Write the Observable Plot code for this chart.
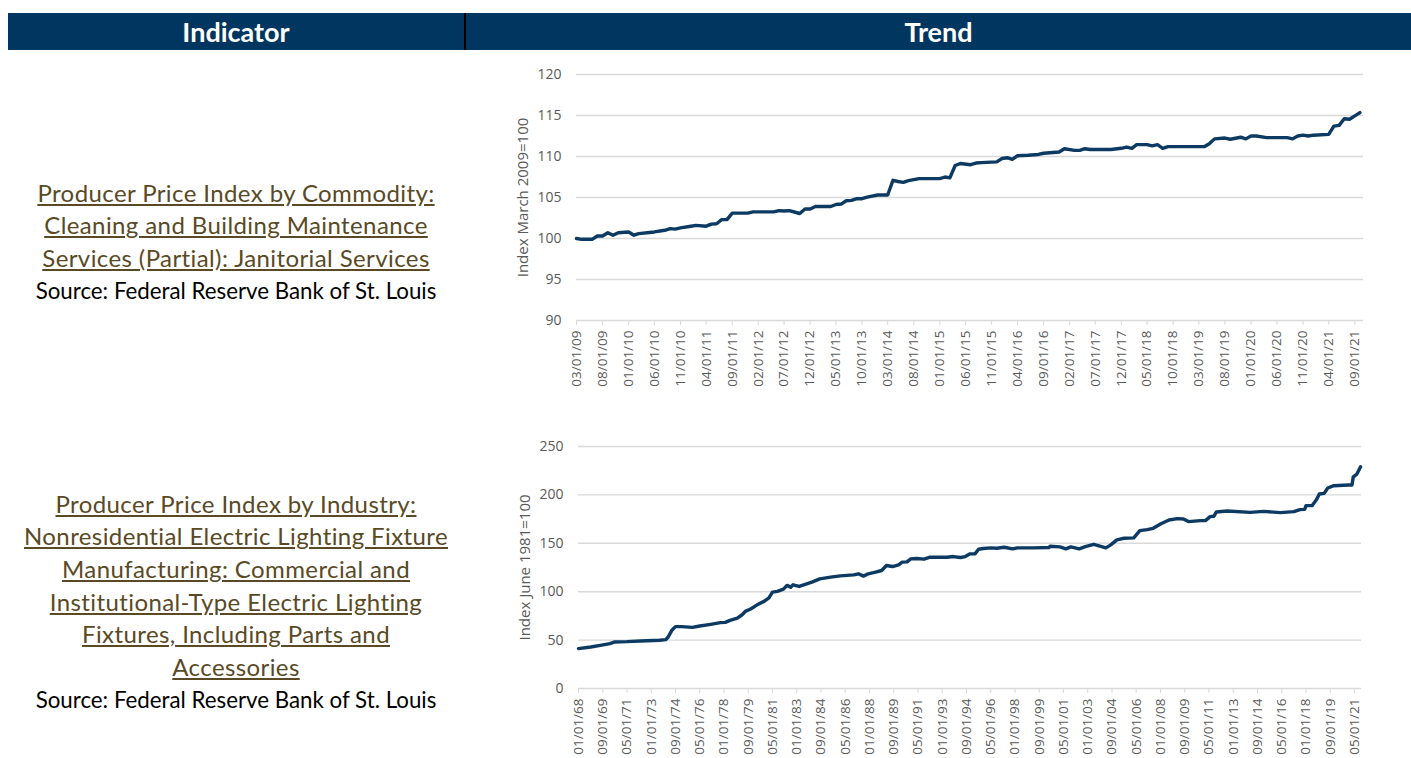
<!DOCTYPE html>
<html><head><meta charset="utf-8">
<script src="https://cdn.jsdelivr.net/npm/d3@7"></script>
<script src="https://cdn.jsdelivr.net/npm/@observablehq/plot@0.6"></script>
<style>
body{margin:0;background:#fff;width:1411px;height:758px;position:relative;overflow:hidden;font-family:Lato,sans-serif}
#hdr{position:absolute;left:8px;top:13px;width:1403px;height:37px;background:#003660}
.h{position:absolute;top:0;height:37px;line-height:37px;color:#fff;font-weight:bold;font-size:27px;text-align:center}
#h1{left:0;width:456px}
#h2{left:458px;width:945px}
#dv{position:absolute;left:456px;top:0;width:2px;height:37px;background:#000}
.ind{position:absolute;left:8px;width:456px;text-align:center;color:#000}
.ind .ln{height:32.7px;line-height:32.7px;font-size:24px;letter-spacing:0.4px;white-space:nowrap}
.ind .ln a{color:#594a25;text-decoration:underline}
.ind .src{height:31px;line-height:31px;margin-top:0.5px;font-size:22.3px;white-space:nowrap}
.chart{position:absolute;left:500px}
</style></head>
<body>
<div id="hdr"><div class="h" id="h1">Indicator</div><div id="dv"></div><div class="h" id="h2">Trend</div></div>
<div class="ind" id="ind1" style="top:176.5px"></div>
<div class="ind" id="ind2" style="top:487.5px"></div>
<div class="chart" id="c1" style="top:60px"></div>
<div class="chart" id="c2" style="top:430px"></div>
<script>
// ---------- Text ----------
const headerLabels = ["Indicator", "Trend"];
const indicator1Lines = ["Producer Price Index by Commodity:", "Cleaning and Building Maintenance", "Services (Partial): Janitorial Services"];
const indicator2Lines = ["Producer Price Index by Industry:", "Nonresidential Electric Lighting Fixture", "Manufacturing: Commercial and", "Institutional-Type Electric Lighting", "Fixtures, Including Parts and", "Accessories"];
const sourceText = "Source: Federal Reserve Bank of St. Louis";
const yLabel1 = "Index March 2009=100";
const yLabel2 = "Index June 1981=100";

// ---------- Chart 1: PPI Janitorial Services ----------
const janMonths = ["2009-03","2009-04","2009-06","2009-07","2009-08","2009-09","2009-10","2009-11","2010-01","2010-02","2010-03","2010-06","2010-08","2010-09","2010-10","2010-11","2011-01","2011-02","2011-04","2011-05","2011-06","2011-07","2011-08","2011-09","2011-12","2012-01","2012-05","2012-06","2012-07","2012-08","2012-10","2012-11","2012-12","2013-01","2013-04","2013-05","2013-06","2013-07","2013-08","2013-09","2013-10","2013-11","2014-01","2014-03","2014-04","2014-05","2014-06","2014-07","2014-09","2015-01","2015-02","2015-03","2015-04","2015-05","2015-07","2015-08","2015-09","2015-12","2016-01","2016-02","2016-03","2016-04","2016-06","2016-08","2016-09","2016-12","2017-01","2017-03","2017-04","2017-05","2017-06","2017-10","2017-12","2018-01","2018-02","2018-03","2018-05","2018-06","2018-07","2018-08","2018-09","2019-04","2019-05","2019-06","2019-08","2019-09","2019-11","2019-12","2020-01","2020-02","2020-04","2020-08","2020-09","2020-10","2020-11","2020-12","2021-01","2021-04","2021-05","2021-06","2021-07","2021-08","2021-09","2021-10"];
const janValues = [100.0,99.9,99.9,100.3,100.3,100.7,100.4,100.7,100.8,100.4,100.6,100.8,101.0,101.2,101.15,101.3,101.5,101.6,101.5,101.75,101.8,102.3,102.3,103.1,103.1,103.25,103.25,103.4,103.35,103.4,103.05,103.6,103.6,103.9,103.9,104.15,104.2,104.6,104.65,104.85,104.85,105.05,105.3,105.3,107.1,106.95,106.85,107.05,107.3,107.3,107.5,107.4,108.9,109.15,109.0,109.2,109.25,109.35,109.75,109.85,109.65,110.1,110.15,110.25,110.4,110.55,110.95,110.75,110.75,110.95,110.85,110.85,111.0,111.15,111.0,111.45,111.45,111.3,111.45,111.0,111.2,111.2,111.55,112.15,112.25,112.1,112.35,112.15,112.5,112.5,112.3,112.3,112.15,112.5,112.6,112.5,112.6,112.7,113.7,113.8,114.6,114.55,114.95,115.35];
const janYTicks = [90, 95, 100, 105, 110, 115, 120];
const janXTickLabels = ["03/01/09","08/01/09","01/01/10","06/01/10","11/01/10","04/01/11","09/01/11","02/01/12","07/01/12","12/01/12","05/01/13","10/01/13","03/01/14","08/01/14","01/01/15","06/01/15","11/01/15","04/01/16","09/01/16","02/01/17","07/01/17","12/01/17","05/01/18","10/01/18","03/01/19","08/01/19","01/01/20","06/01/20","11/01/20","04/01/21","09/01/21"];

// ---------- Chart 2: PPI Lighting Fixtures ----------
const lightMonths = ["1968-01","1968-11","1969-07","1970-03","1970-07","1971-05","1972-04","1973-08","1974-01","1974-03","1974-06","1974-09","1975-02","1975-11","1976-05","1977-02","1977-10","1978-02","1978-06","1978-12","1979-04","1979-07","1979-11","1980-04","1980-10","1981-02","1981-05","1981-09","1982-02","1982-05","1982-08","1982-10","1983-03","1983-08","1984-02","1984-08","1985-05","1986-01","1986-12","1987-04","1987-08","1987-12","1988-06","1988-11","1989-03","1989-08","1990-01","1990-04","1990-08","1990-11","1991-04","1991-10","1992-03","1993-05","1993-10","1994-04","1994-08","1994-12","1995-04","1995-07","1995-11","1996-05","1996-10","1997-04","1997-11","1998-03","1999-04","2000-05","2000-06","2001-02","2001-07","2001-11","2002-06","2002-11","2003-06","2004-04","2004-08","2005-01","2005-07","2006-03","2006-08","2007-02","2007-07","2008-01","2008-08","2009-03","2009-08","2009-12","2010-10","2011-02","2011-06","2011-09","2011-11","2012-08","2014-03","2015-02","2016-04","2017-03","2017-08","2017-12","2018-01","2018-06","2018-10","2018-12","2019-04","2019-07","2019-12","2020-12","2021-03","2021-04","2021-07","2021-09","2021-10"];
const lightValues = [41.2,42.9,44.6,46.4,48.1,48.4,49.1,49.8,50.5,53.2,60.1,63.9,63.9,63.2,64.6,66.3,68.0,68.3,70.4,72.8,76.2,80.0,82.1,86.2,90.0,93.7,99.6,100.3,102.7,106.5,104.7,107.1,105.4,107.5,110.2,113.3,115.0,116.4,117.4,118.5,116.1,118.5,120.2,121.9,127.1,126.0,127.7,130.5,130.8,133.9,134.3,133.6,135.6,135.6,136.3,135.3,136.3,139.1,139.1,143.9,144.6,145.3,144.9,145.9,144.2,145.3,145.3,145.6,147.0,146.3,144.2,146.3,144.2,146.6,149.0,145.3,148.4,153.5,155.2,155.6,163.1,164.1,165.5,170.0,174.1,175.5,175.1,172.4,173.4,173.4,177.5,177.9,182.3,183.4,182.0,183.0,181.7,182.7,184.8,185.1,188.9,188.9,195.7,200.9,201.6,207.1,209.5,210.2,210.2,218.7,221.5,226.6,229.0];
const lightYTicks = [0, 50, 100, 150, 200, 250];
const lightXTickLabels = ["01/01/68","09/01/69","05/01/71","01/01/73","09/01/74","05/01/76","01/01/78","09/01/79","05/01/81","01/01/83","09/01/84","05/01/86","01/01/88","09/01/89","05/01/91","01/01/93","09/01/94","05/01/96","01/01/98","09/01/99","05/01/01","01/01/03","09/01/04","05/01/06","01/01/08","09/01/09","05/01/11","01/01/13","09/01/14","05/01/16","01/01/18","09/01/19","05/01/21"];

// ---------- helpers ----------
const parseYM = s => new Date(Date.UTC(+s.slice(0,4), +s.slice(5,7) - 1, 1));
const parseTick = s => { const [m, d, y] = s.split("/").map(Number); return new Date(Date.UTC(y >= 50 ? 1900 + y : 2000 + y, m - 1, d)); };
const fmt = d3.utcFormat("%m/%d/%y");

document.getElementById("h1").textContent = headerLabels[0];
document.getElementById("h2").textContent = headerLabels[1];
function fillIndicator(id, lines) {
  const el = document.getElementById(id);
  el.innerHTML = lines.map(l => `<div class="ln"><a>${l}</a></div>`).join("") + `<div class="src">${sourceText}</div>`;
}
fillIndicator("ind1", indicator1Lines);
fillIndicator("ind2", indicator2Lines);

const lineColor = "#0c3a63";
const gridColor = "#d9d9d9";
const textColor = "#595959";

function chart({months, values, yTicks, xTicks, yLabel, xDomain, height, marginTop, marginBottom, marginLeft, marginRight}) {
  const data = months.map((m, i) => ({date: parseYM(m), value: values[i]}));
  return Plot.plot({
    width: 911, height, marginTop, marginBottom, marginLeft, marginRight,
    style: {fontFamily: "'Open Sans', sans-serif", fontSize: "14px", color: textColor, background: "transparent", overflow: "visible"},
    x: {type: "utc", domain: xDomain},
    y: {domain: [yTicks[0], yTicks[yTicks.length - 1]]},
    marks: [
      Plot.gridY(yTicks, {stroke: gridColor, strokeOpacity: 1, strokeWidth: 1.4}),
      Plot.axisY(yTicks, {tickSize: 0, tickPadding: 15, label: null, fontSize: 14, fill: textColor}),
      Plot.axisX(xTicks.map(parseTick), {tickFormat: fmt, tickRotate: -90, tickSize: 5, tickPadding: 5, stroke: gridColor, strokeOpacity: 1, label: null, fontSize: 13.5, fill: textColor}),
      Plot.text([yLabel], {frameAnchor: "left", textAnchor: "middle", rotate: -90, dx: -53, fill: textColor, fontSize: 15}),
      Plot.lineY(data, {x: "date", y: "value", stroke: lineColor, strokeWidth: 3.4, strokeLinejoin: "round", strokeLinecap: "round"})
    ]
  });
}

document.getElementById("c1").appendChild(chart({
  months: janMonths, values: janValues, yTicks: janYTicks, xTicks: janXTickLabels, yLabel: yLabel1,
  xDomain: [new Date(Date.UTC(2009, 2, 1)), new Date(Date.UTC(2021, 9, 22))],
  height: 340, marginTop: 14, marginBottom: 80, marginLeft: 76, marginRight: 48
}));
document.getElementById("c2").appendChild(chart({
  months: lightMonths, values: lightValues, yTicks: lightYTicks, xTicks: lightXTickLabels, yLabel: yLabel2,
  xDomain: [new Date(Date.UTC(1968, 0, 1)), new Date(Date.UTC(2021, 9, 25))],
  height: 328, marginTop: 16, marginBottom: 70, marginLeft: 78, marginRight: 50
}));
</script>
</body></html>
